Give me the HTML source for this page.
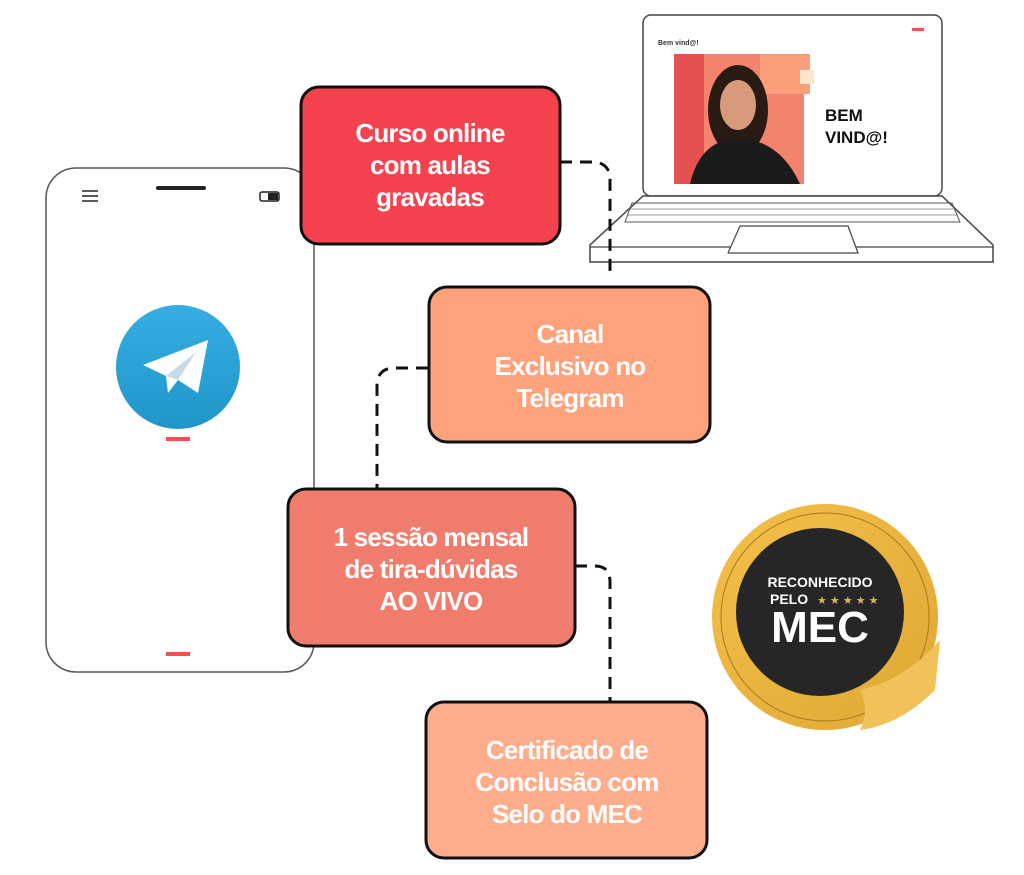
<!DOCTYPE html>
<html><head><meta charset="utf-8"><style>
body{margin:0;background:#fff;width:1024px;height:875px;overflow:hidden}
svg{display:block}
.t{font-family:"Liberation Sans",sans-serif;font-weight:700;fill:#fff;font-size:26px;text-anchor:middle;letter-spacing:-0.8px}
</style></head><body>
<svg width="1024" height="875" viewBox="0 0 1024 875">
<defs>
<linearGradient id="tg" x1="0" y1="0" x2="0" y2="1"><stop offset="0" stop-color="#37aee2"/><stop offset="1" stop-color="#1e96c8"/></linearGradient>
<linearGradient id="gold" x1="0" y1="0" x2="1" y2="1"><stop offset="0" stop-color="#f3c04a"/><stop offset="1" stop-color="#e0a733"/></linearGradient>
</defs>
<!-- phone -->
<rect x="46" y="168" width="268" height="504" rx="30" fill="#fff" stroke="#555" stroke-width="1.5"/>
<g stroke="#333" stroke-width="1.6"><line x1="82" y1="191" x2="98" y2="191"/><line x1="82" y1="196" x2="98" y2="196"/><line x1="82" y1="201" x2="98" y2="201"/></g>
<rect x="156" y="186" width="50" height="4" rx="2" fill="#222"/>
<rect x="260" y="192" width="19" height="9" rx="2" fill="#fff" stroke="#222" stroke-width="1.5"/><rect x="268" y="193" width="10" height="7" fill="#222"/>
<circle cx="178" cy="367" r="62" fill="url(#tg)"/>
<path d="M143 365 L208 340 L198 393 L178 380 L168 393 L166 376 Z" fill="#fff"/>
<path d="M166 376 L196 352 L178 380 Z" fill="#c8daea"/>
<rect x="166" y="437" width="24" height="4" fill="#f5524f"/>
<rect x="166" y="652" width="24" height="4" fill="#f5524f"/>
<!-- laptop -->
<rect x="643" y="15" width="299" height="181" rx="8" fill="#fff" stroke="#444" stroke-width="1.5"/>
<path d="M643 196 L942 196 L993 245 L993 262 L590 262 L590 245 Z" fill="#fff" stroke="#444" stroke-width="1.5"/>
<line x1="590" y1="247" x2="993" y2="247" stroke="#444" stroke-width="1.2"/>
<path d="M632 203 L952 203 L960 222 L625 222 Z" fill="none" stroke="#555" stroke-width="1"/>
<g stroke="#777" stroke-width="0.8"><line x1="630" y1="209" x2="955" y2="209"/><line x1="628" y1="215" x2="957" y2="215"/></g>
<path d="M740 226 L848 226 L858 253 L728 253 Z" fill="#fff" stroke="#444" stroke-width="1.2" stroke-linejoin="round"/>
<text x="658" y="45" font-family="Liberation Sans,sans-serif" font-weight="700" font-size="7" fill="#333">Bem vind@!</text>
<rect x="912" y="28" width="12" height="3" fill="#f5524f"/>
<rect x="674" y="54" width="130" height="130" fill="#f3826e"/>
<rect x="674" y="54" width="30" height="130" fill="#e55050"/>
<rect x="760" y="54" width="50" height="40" fill="#f9a07a"/>
<rect x="800" y="70" width="14" height="14" fill="#fde6cc"/>
<ellipse cx="738" cy="110" rx="30" ry="45" fill="#2a1a14"/>
<ellipse cx="738" cy="105" rx="18" ry="25" fill="#d79a7a"/>
<path d="M690 184 Q700 140 738 138 Q780 140 800 184 Z" fill="#1b1b1b"/>
<text x="825" y="121" font-family="Liberation Sans,sans-serif" font-weight="700" font-size="17" fill="#111">BEM</text>
<text x="825" y="143" font-family="Liberation Sans,sans-serif" font-weight="700" font-size="17" fill="#111">VIND@!</text>
<!-- connectors -->
<g fill="none" stroke="#111" stroke-width="3" stroke-dasharray="12,8">
<path d="M560 162 L592 162 Q610 162 610 180 L610 272"/>
<path d="M428 368 L395 368 Q377 368 377 386 L377 488"/>
<path d="M575 566 L595 566 Q610 566 610 582 L610 702"/>
</g>
<!-- boxes -->
<rect x="301" y="87" width="259" height="157" rx="18" fill="#f6424f" stroke="#111" stroke-width="3"/>
<text class="t" x="430" y="142">Curso online</text><text class="t" x="430" y="174">com aulas</text><text class="t" x="430" y="206">gravadas</text>
<rect x="429" y="287" width="281" height="155" rx="18" fill="#fda27b" stroke="#111" stroke-width="3"/>
<text class="t" x="570" y="343">Canal</text><text class="t" x="570" y="375">Exclusivo no</text><text class="t" x="570" y="407">Telegram</text>
<rect x="288" y="489" width="287" height="157" rx="18" fill="#f07c6d" stroke="#111" stroke-width="3"/>
<text class="t" x="431" y="546">1 sessão mensal</text><text class="t" x="431" y="578">de tira-dúvidas</text><text class="t" x="431" y="610">AO VIVO</text>
<rect x="426" y="702" width="281" height="156" rx="18" fill="#fdad8b" stroke="#111" stroke-width="3"/>
<text class="t" x="567" y="759">Certificado de</text><text class="t" x="567" y="791">Conclusão com</text><text class="t" x="567" y="823">Selo do MEC</text>
<!-- MEC badge -->
<circle cx="825" cy="617" r="113" fill="url(#gold)"/>
<circle cx="825" cy="617" r="104" fill="none" stroke="#a77a20" stroke-width="1"/>
<circle cx="820" cy="612" r="84" fill="#262626"/>
<path d="M860 690 Q905 680 940 640 L935 690 Q900 725 860 730 Q870 710 860 690 Z" fill="#f2c25a"/>
<text x="820" y="587" text-anchor="middle" font-family="Liberation Sans,sans-serif" font-weight="700" font-size="14" fill="#fff">RECONHECIDO</text>
<text x="770" y="604" font-family="Liberation Sans,sans-serif" font-weight="700" font-size="14" fill="#fff">PELO</text>
<text x="817" y="604" font-family="Liberation Sans,sans-serif" font-size="11" fill="#d9b46a">★ ★ ★ ★ ★</text>
<text x="820" y="642" text-anchor="middle" font-family="Liberation Sans,sans-serif" font-weight="700" font-size="44" fill="#fff">MEC</text>
</svg>
</body></html>
